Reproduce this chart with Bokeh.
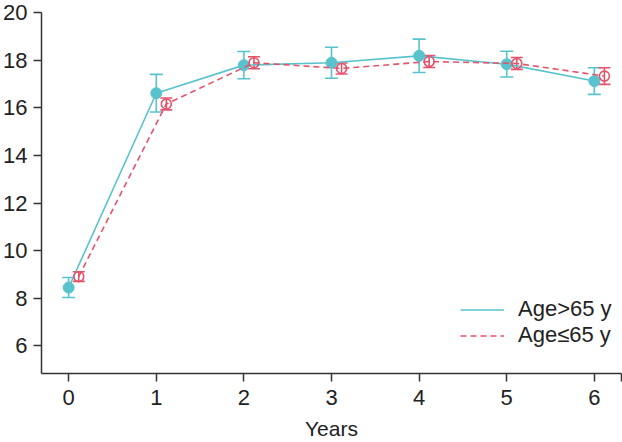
from bokeh.plotting import figure
from bokeh.models import ColumnDataSource, Whisker, TeeHead, Legend, LegendItem, FixedTicker, Range1d
from bokeh.embed import file_html
from bokeh.resources import INLINE

years = [0, 1, 2, 3, 4, 5, 6]
old_mean = [8.45, 16.61, 17.79, 17.89, 18.18, 17.83, 17.12]
old_err = [0.42, 0.79, 0.57, 0.65, 0.70, 0.54, 0.56]
young_mean = [8.91, 16.16, 17.89, 17.65, 17.94, 17.86, 17.33]
young_err = [0.20, 0.25, 0.25, 0.23, 0.25, 0.25, 0.35]
x_ticks = [0, 1, 2, 3, 4, 5, 6]
y_ticks = [6, 8, 10, 12, 14, 16, 18, 20]
dodge = 0.115

CYAN = "#58C3CD"
RED = "#E4536B"
AXIS = "#333333"
TEXT = "#222222"
FONT = "Liberation Sans"

old_src = ColumnDataSource(dict(
    x=years, y=old_mean,
    upper=[m + e for m, e in zip(old_mean, old_err)],
    lower=[m - e for m, e in zip(old_mean, old_err)],
))
young_src = ColumnDataSource(dict(
    x=[v + dodge for v in years], y=young_mean,
    upper=[m + e for m, e in zip(young_mean, young_err)],
    lower=[m - e for m, e in zip(young_mean, young_err)],
))

p = figure(width=622, height=442, output_backend="svg", toolbar_location=None,
           x_range=Range1d(-0.31, 6.31), y_range=Range1d(4.84, 20),
           min_border_left=40, min_border_right=1, min_border_top=12, min_border_bottom=68)
p.outline_line_color = None
p.grid.visible = False
p.background_fill_color = "white"
p.border_fill_color = "white"

for ax in (p.xaxis[0], p.yaxis[0]):
    ax.axis_line_color = AXIS
    ax.axis_line_width = 1.5
    ax.major_tick_line_color = AXIS
    ax.major_tick_line_width = 1.5
    ax.major_tick_out = 8
    ax.major_tick_in = 0
    ax.minor_tick_line_color = None
    ax.major_label_text_font = FONT
    ax.major_label_text_font_size = "22px"
    ax.major_label_text_color = TEXT

p.xaxis.ticker = FixedTicker(ticks=x_ticks + [6.31])
p.xaxis.major_label_overrides = {6.31: ""}
p.xaxis.major_label_standoff = 8
p.xaxis.axis_label = "Years"
p.xaxis.axis_label_text_font = FONT
p.xaxis.axis_label_text_font_size = "21px"
p.xaxis.axis_label_text_font_style = "normal"
p.xaxis.axis_label_text_color = TEXT
p.xaxis.axis_label_standoff = 9

p.yaxis.ticker = FixedTicker(ticks=y_ticks)
p.yaxis.major_label_standoff = 6

# Age>65 (cyan)
old_line = p.line("x", "y", source=old_src, line_color=CYAN, line_width=1.6)
p.add_layout(Whisker(source=old_src, base="x", upper="upper", lower="lower",
                     line_color=CYAN, line_width=1.6,
                     upper_head=TeeHead(size=13, line_color=CYAN, line_width=1.6),
                     lower_head=TeeHead(size=13, line_color=CYAN, line_width=1.6)))
p.scatter("x", "y", source=old_src, size=11, fill_color=CYAN, line_color=CYAN)

# Age<=65 (red)
young_line = p.line("x", "y", source=young_src, line_color=RED, line_width=1.6, line_dash="6 4")
p.add_layout(Whisker(source=young_src, base="x", upper="upper", lower="lower",
                     line_color=RED, line_width=1.6,
                     upper_head=TeeHead(size=12, line_color=RED, line_width=1.6),
                     lower_head=TeeHead(size=12, line_color=RED, line_width=1.6)))
p.scatter("x", "y", source=young_src, size=10, fill_color=None, line_color=RED, line_width=1.6)

legend = Legend(items=[LegendItem(label="Age>65 y", renderers=[old_line]),
                       LegendItem(label="Age\u226465 y", renderers=[young_line])],
                location=(419, 25))
legend.border_line_color = None
legend.background_fill_alpha = 0
legend.padding = 0
legend.margin = 0
legend.spacing = 0
legend.glyph_width = 44
legend.glyph_height = 21
legend.label_height = 21
legend.label_standoff = 14
legend.label_text_font = FONT
legend.label_text_font_size = "22px"
legend.label_text_color = TEXT
p.add_layout(legend, "center")

open("out.html", "w").write(file_html(p, INLINE))
